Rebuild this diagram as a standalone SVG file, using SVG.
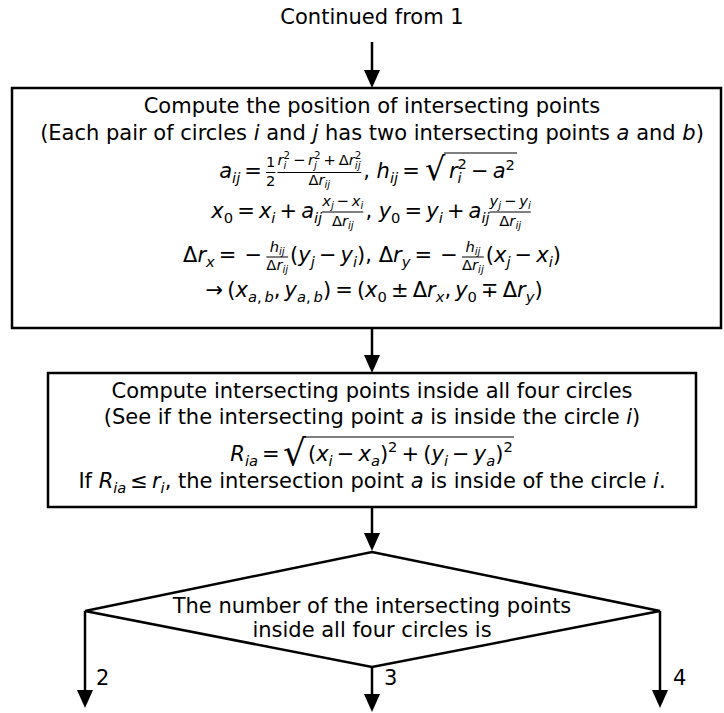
<svg xmlns="http://www.w3.org/2000/svg" width="724" height="713" viewBox="0 0 724 713">
<style>
.t{font-family:"DejaVu Sans","Liberation Sans",sans-serif;font-size:21px;fill:#000}
.c{text-anchor:middle}
.i{font-style:italic}
.s{font-size:14.7px}
.ss{font-size:10.3px}
.box{fill:#fff;stroke:#000;stroke-width:2.5}
.bar{stroke:#000;stroke-width:1;fill:none}
.conn path{fill:none;stroke:#000;stroke-width:2.5;marker-end:url(#ah)}
</style>
<defs>
<marker id="ah" markerUnits="userSpaceOnUse" markerWidth="18" markerHeight="16" refX="8" refY="8" orient="auto" viewBox="0 0 18 16">
<path d="M0,0 L18,8 L0,16 z" fill="#000"/>
</marker>
</defs>
<rect width="724" height="713" fill="#fff"/>

<g id="connectors" class="conn">
<path d="M372,42 V78"/>
<path d="M372,328 V363"/>
<path d="M372,507 V541"/>
<path d="M85,611 V698"/>
<path d="M372,667 V702"/>
<path d="M660,611 V698"/>
</g>
<g id="edge-labels">
<text class="t" x="96" y="685">2</text>
<text class="t" x="384" y="685">3</text>
<text class="t" x="673" y="685">4</text>
</g>

<g id="start">
<text class="t c" x="372" y="24">Continued from 1</text>
</g>

<g id="box1">
<rect class="box" x="12" y="88" width="709" height="240"/>
<text class="t c" x="372" y="113">Compute the position of intersecting points</text>
<text class="t c" x="372" y="140">(Each pair of circles <tspan class="i">i</tspan> and <tspan class="i">j</tspan> has two intersecting points <tspan class="i">a</tspan> and <tspan class="i">b</tspan>)</text>
<text class="t">
<tspan class="i" x="219.2" y="178">a</tspan><tspan class="i s" x="232.1" y="182.5">ij</tspan><tspan x="244.3" y="178">=</tspan><tspan class="s" x="266" y="167">1</tspan><tspan class="s" x="266" y="186">2</tspan><tspan class="i s" x="277.4" y="165">r</tspan><tspan class="i ss" x="283.4" y="168.5">i</tspan><tspan class="ss" x="283.4" y="159">2</tspan><tspan class="s" x="292.9" y="165">−</tspan><tspan class="i s" x="308.1" y="165">r</tspan><tspan class="i ss" x="314.1" y="168.5">j</tspan><tspan class="ss" x="314.1" y="159">2</tspan><tspan class="s" x="323.5" y="165">+</tspan><tspan class="s" x="338.7" y="165">Δ</tspan><tspan class="i s" x="348.7" y="165">r</tspan><tspan class="i ss" x="354.8" y="168.5">ij</tspan><tspan class="ss" x="354.8" y="159">2</tspan><tspan class="s" x="308.4" y="185">Δ</tspan><tspan class="i s" x="318.5" y="185">r</tspan><tspan class="i ss" x="324.5" y="188">ij</tspan><tspan x="363.2" y="178">,</tspan><tspan class="i" x="376.6" y="178">h</tspan><tspan class="i s" x="389.9" y="182.5">ij</tspan><tspan x="402.2" y="178">=</tspan><tspan x="425" y="180" style="font-size:32px">√</tspan><tspan class="i" x="449" y="178">r</tspan><tspan class="s" x="457.6" y="169">2</tspan><tspan class="i s" x="457.6" y="183">i</tspan><tspan x="471" y="178">−</tspan><tspan class="i" x="492.7" y="178">a</tspan><tspan class="s" x="505.6" y="170">2</tspan>
</text>
<line class="bar" x1="266" y1="172.5" x2="275.4" y2="172.5"/>
<line class="bar" x1="277.4" y1="172.5" x2="361.3" y2="172.5"/>
<line class="bar" x1="444" y1="153" x2="517" y2="153"/>
<text class="t">
<tspan class="i" x="211.3" y="218">x</tspan><tspan class="s" x="223.7" y="222.5">0</tspan><tspan x="237.2" y="218">=</tspan><tspan class="i" x="258.9" y="218">x</tspan><tspan class="i s" x="271.3" y="222.5">i</tspan><tspan x="279.5" y="218">+</tspan><tspan class="i" x="301.2" y="218">a</tspan><tspan class="i s" x="314" y="222.5">ij</tspan><tspan class="i s" x="322.2" y="206">x</tspan><tspan class="i ss" x="330.9" y="209">j</tspan><tspan class="s" x="336.6" y="206">−</tspan><tspan class="i s" x="351.8" y="206">x</tspan><tspan class="i ss" x="360.5" y="209">i</tspan><tspan class="s" x="331.9" y="226">Δ</tspan><tspan class="i s" x="341.9" y="226">r</tspan><tspan class="i ss" x="348" y="229">ij</tspan><tspan x="365.4" y="218">,</tspan><tspan class="i" x="378.7" y="218">y</tspan><tspan class="s" x="391.1" y="222.5">0</tspan><tspan x="404.6" y="218">=</tspan><tspan class="i" x="426.3" y="218">y</tspan><tspan class="i s" x="438.7" y="222.5">i</tspan><tspan x="446.9" y="218">+</tspan><tspan class="i" x="468.6" y="218">a</tspan><tspan class="i s" x="481.5" y="222.5">ij</tspan><tspan class="i s" x="489.6" y="206">y</tspan><tspan class="i ss" x="498.3" y="209">j</tspan><tspan class="s" x="504" y="206">−</tspan><tspan class="i s" x="519.2" y="206">y</tspan><tspan class="i ss" x="527.9" y="209">i</tspan><tspan class="s" x="499.3" y="226">Δ</tspan><tspan class="i s" x="509.3" y="226">r</tspan><tspan class="i ss" x="515.4" y="229">ij</tspan>
</text>
<line class="bar" x1="322.2" y1="212" x2="363.4" y2="212"/>
<line class="bar" x1="489.6" y1="212" x2="530.8" y2="212"/>
<text class="t">
<tspan x="183" y="262">Δ</tspan><tspan class="i" x="197.4" y="262">r</tspan><tspan class="i s" x="206" y="266.5">x</tspan><tspan x="218.8" y="262">=</tspan><tspan x="244.6" y="262">−</tspan><tspan class="i s" x="269.7" y="252">h</tspan><tspan class="i ss" x="279" y="255">ij</tspan><tspan class="s" x="266.3" y="270">Δ</tspan><tspan class="i s" x="276.4" y="270">r</tspan><tspan class="i ss" x="282.4" y="273">ij</tspan><tspan x="290.1" y="262">(</tspan><tspan class="i" x="298.3" y="262">y</tspan><tspan class="i s" x="310.7" y="266.5">j</tspan><tspan x="318.9" y="262">−</tspan><tspan class="i" x="340.6" y="262">y</tspan><tspan class="i s" x="353" y="266.5">i</tspan><tspan x="357.1" y="262">)</tspan><tspan x="365.3" y="262">,</tspan><tspan x="378.7" y="262">Δ</tspan><tspan class="i" x="393.1" y="262">r</tspan><tspan class="i s" x="401.7" y="266.5">y</tspan><tspan x="414.5" y="262">=</tspan><tspan x="440.3" y="262">−</tspan><tspan class="i s" x="465.4" y="252">h</tspan><tspan class="i ss" x="474.7" y="255">ij</tspan><tspan class="s" x="462" y="270">Δ</tspan><tspan class="i s" x="472.1" y="270">r</tspan><tspan class="i ss" x="478.1" y="273">ij</tspan><tspan x="485.8" y="262">(</tspan><tspan class="i" x="494" y="262">x</tspan><tspan class="i s" x="506.4" y="266.5">j</tspan><tspan x="514.6" y="262">−</tspan><tspan class="i" x="536.3" y="262">x</tspan><tspan class="i s" x="548.7" y="266.5">i</tspan><tspan x="552.8" y="262">)</tspan>
</text>
<line class="bar" x1="266.3" y1="257" x2="288.1" y2="257"/>
<line class="bar" x1="462" y1="257" x2="483.8" y2="257"/>
<text class="t">
<tspan x="205.6" y="297">→</tspan><tspan x="227.3" y="297">(</tspan><tspan class="i" x="235.5" y="297">x</tspan><tspan class="i s" x="247.9" y="301.5">a</tspan><tspan class="s" x="256.9" y="301.5">,</tspan><tspan class="i s" x="264.4" y="301.5">b</tspan><tspan x="273.8" y="297">,</tspan><tspan class="i" x="284.6" y="297">y</tspan><tspan class="i s" x="297" y="301.5">a</tspan><tspan class="s" x="306" y="301.5">,</tspan><tspan class="i s" x="313.6" y="301.5">b</tspan><tspan x="322.9" y="297">)</tspan><tspan x="335.2" y="297">=</tspan><tspan x="356.9" y="297">(</tspan><tspan class="i" x="365.1" y="297">x</tspan><tspan class="s" x="377.5" y="301.5">0</tspan><tspan x="391" y="297">±</tspan><tspan x="412.7" y="297">Δ</tspan><tspan class="i" x="427" y="297">r</tspan><tspan class="i s" x="435.7" y="301.5">x</tspan><tspan x="444.4" y="297">,</tspan><tspan class="i" x="455.2" y="297">y</tspan><tspan class="s" x="467.6" y="301.5">0</tspan><tspan x="481.1" y="297">∓</tspan><tspan x="502.8" y="297">Δ</tspan><tspan class="i" x="517.1" y="297">r</tspan><tspan class="i s" x="525.8" y="301.5">y</tspan><tspan x="534.5" y="297">)</tspan>
</text>
</g>

<g id="box2">
<rect class="box" x="48" y="373" width="648" height="134"/>
<text class="t c" x="372" y="398">Compute intersecting points inside all four circles</text>
<text class="t c" x="372" y="424">(See if the intersecting point <tspan class="i">a</tspan> is inside the circle <tspan class="i">i</tspan>)</text>
<text class="t">
<tspan class="i" x="230.3" y="461">R</tspan><tspan class="i s" x="244.9" y="465.5">ia</tspan><tspan x="262.1" y="461">=</tspan><tspan x="283" y="465" style="font-size:36px">√</tspan><tspan x="308" y="461">(</tspan><tspan class="i" x="316.2" y="461">x</tspan><tspan class="i s" x="328.6" y="465.5">i</tspan><tspan x="336.8" y="461">−</tspan><tspan class="i" x="358.5" y="461">x</tspan><tspan class="i s" x="370.9" y="465.5">a</tspan><tspan x="379.9" y="461">)</tspan><tspan class="s" x="388.1" y="452">2</tspan><tspan x="401.6" y="461">+</tspan><tspan x="423.3" y="461">(</tspan><tspan class="i" x="431.5" y="461">y</tspan><tspan class="i s" x="443.9" y="465.5">i</tspan><tspan x="452.1" y="461">−</tspan><tspan class="i" x="473.8" y="461">y</tspan><tspan class="i s" x="486.2" y="465.5">a</tspan><tspan x="495.2" y="461">)</tspan><tspan class="s" x="503.4" y="452">2</tspan>
</text>
<line class="bar" x1="305" y1="437" x2="514" y2="437"/>
<text class="t c" x="372" y="488">If <tspan class="i">R</tspan><tspan class="i s" dy="4.5">ia</tspan><tspan dx="4" dy="-4.5">≤</tspan><tspan class="i" dx="4">r</tspan><tspan class="i s" dy="4.5">i</tspan><tspan dy="-4.5">, the intersection point </tspan><tspan class="i">a</tspan> is inside of the circle <tspan class="i">i</tspan>.</text>
</g>

<g id="decision">
<polygon class="box" points="372,552 660,611 372,667 85,611"/>
<text class="t c" x="372" y="613">The number of the intersecting points</text>
<text class="t c" x="372" y="637">inside all four circles is</text>
</g>
</svg>
